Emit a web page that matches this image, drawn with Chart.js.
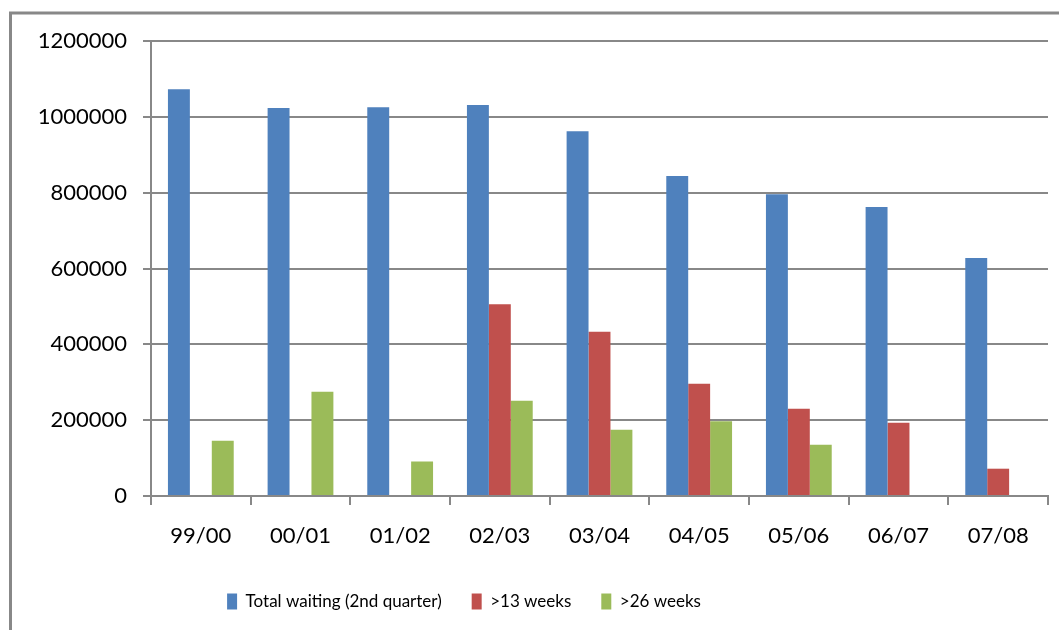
<!DOCTYPE html>
<html>
<head>
<meta charset="utf-8">
<script src="https://cdn.jsdelivr.net/npm/chart.js@4.4.1/dist/chart.umd.min.js"></script>
<style>
  html, body { margin: 0; padding: 0; background: #ffffff; }
  #wrap { width: 1059px; height: 630px; position: relative; }
</style>
</head>
<body>
<div id="wrap"><canvas id="c" width="1059" height="630"></canvas></div>
<script>
// ---- data ----
const categories = ['99/00', '00/01', '01/02', '02/03', '03/04', '04/05', '05/06', '06/07', '07/08'];
const seriesNames = ['Total waiting (2nd quarter)', '>13 weeks', '>26 weeks'];
const totalWaiting = [1073000, 1023000, 1025000, 1031000, 962000, 844000, 796000, 762000, 628000];
const over13Weeks = [null, null, null, 506000, 433000, 296000, 230000, 193000, 72000];
const over26Weeks = [146000, 275000, 91000, 251000, 175000, 197000, 135000, null, null];
const yTickLabels = ['0', '200000', '400000', '600000', '800000', '1000000', '1200000'];

const seriesColors = ['#4F81BD', '#C0504D', '#9BBB59'];
const gridColor = '#888888';
const fontFamily = 'Lato, "Open Sans", sans-serif';

const framePlugin = {
  id: 'frame',
  beforeDraw(chart) {
    const ctx = chart.ctx;
    ctx.save();
    ctx.fillStyle = '#ffffff';
    ctx.fillRect(0, 0, chart.width, chart.height);
    ctx.strokeStyle = '#888888';
    ctx.lineWidth = 3;
    ctx.beginPath();
    ctx.moveTo(10.5, chart.height);
    ctx.lineTo(10.5, 13);
    ctx.lineTo(chart.width, 13);
    ctx.stroke();
    ctx.restore();
  }
};

const legendShift = {
  id: 'legendShift',
  afterLayout(chart) {
    const lg = chart.legend;
    if (lg) { lg.left -= 60; lg.right -= 60; }
  }
};

new Chart(document.getElementById('c'), {
  type: 'bar',
  data: {
    labels: categories,
    datasets: [
      { label: seriesNames[0], data: totalWaiting, backgroundColor: seriesColors[0] },
      { label: seriesNames[1], data: over13Weeks, backgroundColor: seriesColors[1] },
      { label: seriesNames[2], data: over26Weeks, backgroundColor: seriesColors[2] }
    ]
  },
  options: {
    responsive: false,
    animation: false,
    devicePixelRatio: 1,
    datasets: { bar: { categoryPercentage: 0.66, barPercentage: 1.0 } },
    layout: { padding: { left: 0, right: 11, top: 41, bottom: 10 } },
    scales: {
      x: {
        grid: {
          display: true, drawOnChartArea: false, drawTicks: true, tickLength: 9, lineWidth: 2, offset: true,
          color(ctx) { return ctx.index >= categories.length ? 'rgba(0,0,0,0)' : gridColor; }
        },
        border: { display: true, color: gridColor, width: 2 },
        ticks: { color: '#000', font: { family: fontFamily, size: 22 }, padding: 18 },
        afterFit(scale) { scale.height = 67; }
      },
      y: {
        min: 0, max: 1200000,
        ticks: {
          stepSize: 200000, color: '#000', font: { family: fontFamily, size: 22 }, padding: 16,
          callback(value, index) { return yTickLabels[index]; }
        },
        grid: { color: gridColor, lineWidth: 2, tickLength: 8 },
        border: { display: true, color: gridColor, width: 2 },
        afterFit(scale) { scale.width = 151; }
      }
    },
    plugins: {
      legend: {
        position: 'bottom',
        labels: { boxWidth: 10, boxHeight: 16, padding: 30, color: '#000', font: { family: fontFamily, size: 17 } }
      },
      tooltip: { enabled: false }
    }
  },
  plugins: [framePlugin, legendShift]
});
</script>
</body>
</html>
